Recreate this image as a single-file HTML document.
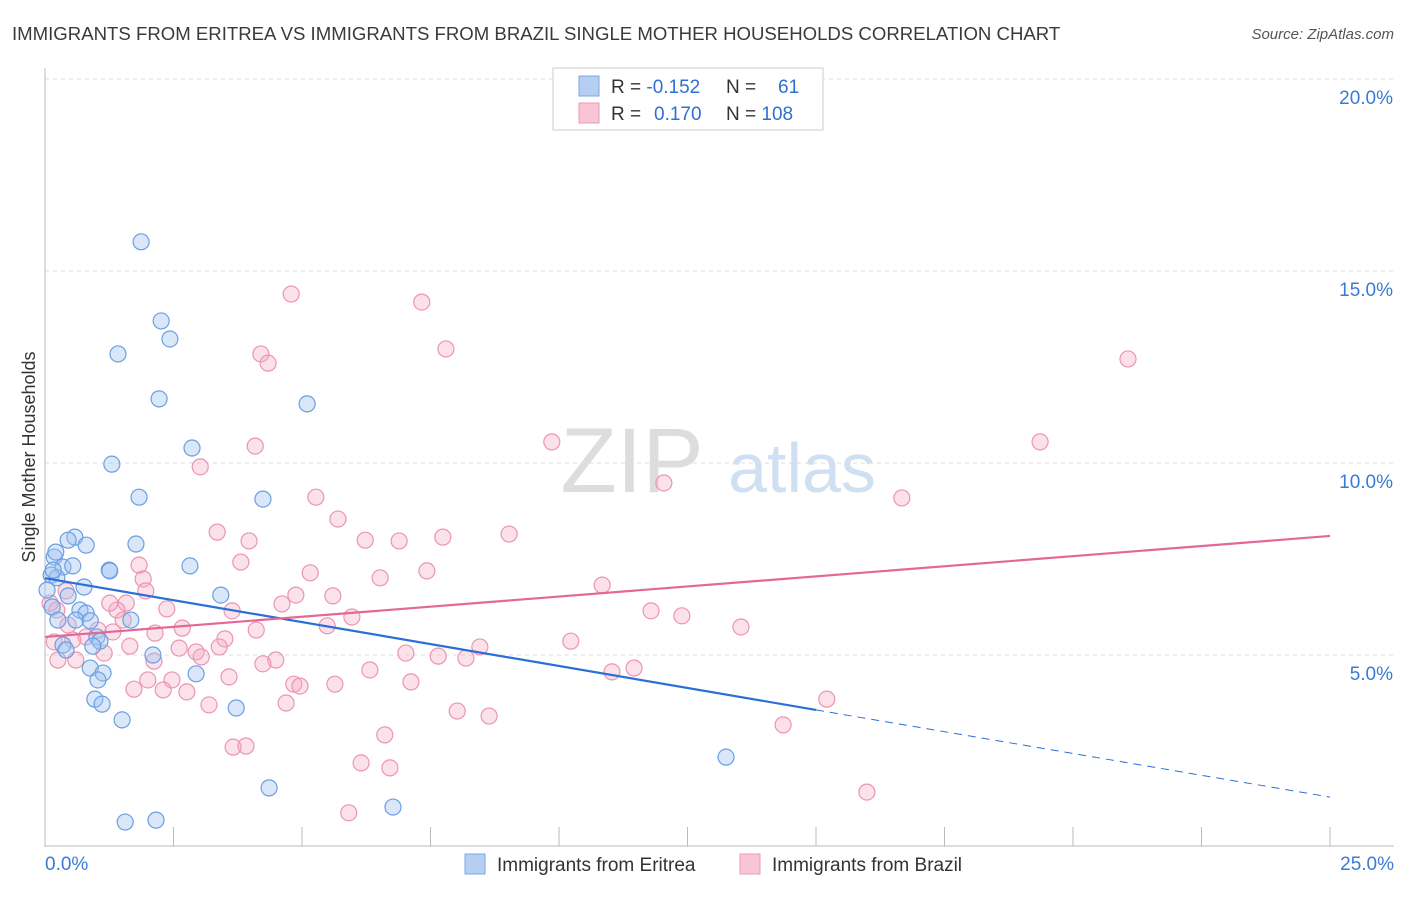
<!DOCTYPE html>
<html><head><meta charset="utf-8"><style>
body{margin:0;background:#fff;font-family:"Liberation Sans",sans-serif;}
svg text{font-family:"Liberation Sans",sans-serif;}
</style></head><body>
<svg id="chart" width="1406" height="892" viewBox="0 0 1406 892">
<text x="12" y="40" font-size="18.6" fill="#3a3a3a">IMMIGRANTS FROM ERITREA VS IMMIGRANTS FROM BRAZIL SINGLE MOTHER HOUSEHOLDS CORRELATION CHART</text>
<text x="1394" y="39" font-size="15" fill="#555" text-anchor="end" font-style="italic">Source: ZipAtlas.com</text>
<text x="35" y="457" font-size="18" fill="#333" text-anchor="middle" transform="rotate(-90 35 457)">Single Mother Households</text>
<g><text x="632" y="492" font-size="92" fill="#ddd" text-anchor="middle" font-family="Liberation Serif,serif">ZIP</text><text x="802" y="492" font-size="70" fill="#cfe0f3" text-anchor="middle">atlas</text></g>
<g id="grid"></g><g id="axes"></g><g id="pts"></g><g id="trend"></g>
<g>
<rect x="553" y="68" width="270" height="62" fill="#fff" stroke="#ccc"/>
<rect x="579" y="76" width="20" height="20" fill="#b4cff2" stroke="#7aa8e6"/>
<rect x="579" y="103" width="20" height="20" fill="#f8c5d5" stroke="#eb9ab4"/>
<text x="611" y="93" font-size="19" fill="#333">R = <tspan fill="#2f6fd4">-0.152</tspan></text>
<text x="726" y="93" font-size="19" fill="#333">N = <tspan fill="#2f6fd4" x="778">61</tspan></text>
<text x="611" y="120" font-size="19" fill="#333">R = <tspan fill="#2f6fd4" x="654">0.170</tspan></text>
<text x="726" y="120" font-size="19" fill="#333">N = <tspan fill="#2f6fd4">108</tspan></text>
</g>
<g>
<rect x="465" y="854" width="20" height="20" fill="#b4cff2" stroke="#7aa8e6"/>
<text x="497" y="871" font-size="19" fill="#333">Immigrants from Eritrea</text>
<rect x="740" y="854" width="20" height="20" fill="#f8c5d5" stroke="#eb9ab4"/>
<text x="772" y="871" font-size="19" fill="#333">Immigrants from Brazil</text>
</g>
</svg>
<script>
const yTicks=[5,10,15,20];
const yTickLabels=["5.0%","10.0%","15.0%","20.0%"];
const xTicks=[0,2.5,5,7.5,10,12.5,15,17.5,20,22.5,25];
const xEndLabels=["0.0%","25.0%"];
const eritreaX=[1.87,2.26,2.43,1.42,2.22,5.10,2.86,1.30,1.83,4.24,0.58,0.80,1.77,0.45,0.18,0.35,0.54,1.25,2.82,0.12,0.23,0.76,0.45,3.42,0.14,0.68,0.80,0.25,0.60,0.88,1.67,1.01,1.07,0.93,0.35,2.10,0.88,1.13,2.94,1.03,0.97,1.11,3.72,1.50,13.25,4.36,6.77,1.56,2.16,0.16,0.21,0.04,1.26,0.41];
const eritreaY=[15.76,13.70,13.23,12.84,11.67,11.54,10.39,9.97,9.11,9.06,8.07,7.86,7.89,7.99,7.55,7.29,7.32,7.21,7.32,7.08,7.01,6.77,6.54,6.56,6.25,6.17,6.09,5.91,5.91,5.89,5.91,5.47,5.36,5.23,5.26,5.00,4.66,4.53,4.51,4.35,3.85,3.72,3.62,3.31,2.34,1.54,1.04,0.65,0.70,7.21,7.68,6.69,7.19,5.13];
const brazilX=[4.79,7.33,7.80,4.20,4.34,21.07,9.86,19.36,4.09,3.02,12.04,5.27,16.67,5.70,3.35,9.03,6.23,6.89,7.74,3.97,1.83,3.81,7.43,5.16,6.52,1.91,10.84,1.96,4.88,5.60,2.37,3.64,4.61,11.79,12.39,5.97,1.58,1.40,2.67,5.49,4.11,2.14,13.54,3.50,10.23,3.39,2.61,2.94,7.02,7.65,8.46,8.19,3.04,4.49,4.24,2.12,1.15,0.60,0.80,1.32,11.03,11.46,6.32,3.58,2.00,2.47,4.84,5.64,4.96,7.12,1.73,2.30,2.76,3.19,4.69,8.02,8.64,15.21,6.61,14.36,3.66,3.91,6.15,6.71,5.91,15.99,0.23,0.45,0.10,1.03,0.54,1.52,0.41,1.26,0.18,1.65,0.25];
const brazilY=[14.40,14.19,12.97,12.84,12.60,12.71,10.55,10.55,10.44,9.90,9.48,9.11,9.09,8.54,8.20,8.15,7.99,7.97,8.07,7.97,7.34,7.42,7.19,7.14,7.01,6.98,6.82,6.67,6.56,6.54,6.20,6.15,6.33,6.15,6.02,5.99,6.35,6.17,5.70,5.76,5.65,5.57,5.73,5.42,5.36,5.21,5.18,5.08,5.05,4.97,5.21,4.92,4.95,4.87,4.77,4.84,5.05,4.87,5.47,5.60,4.56,4.66,4.61,4.43,4.35,4.35,4.24,4.24,4.19,4.30,4.11,4.09,4.04,3.70,3.75,3.54,3.41,3.85,2.92,3.18,2.60,2.63,2.19,2.06,0.89,1.43,6.17,5.78,6.35,5.65,5.39,5.91,6.67,6.35,5.34,5.23,4.87];
const eritreaTrendX=[0,15,25];
const eritreaTrendY=[7.0,3.57,1.30];
const brazilTrendX=[0,25];
const brazilTrendY=[5.47,8.1];

const NS="http://www.w3.org/2000/svg";
const sx=v=>45+v*51.4;
const sy=v=>847-v*38.4;
function mk(tag,attrs,parent){const e=document.createElementNS(NS,tag);for(const k in attrs)e.setAttribute(k,attrs[k]);document.getElementById(parent).appendChild(e);return e;}

yTicks.forEach((t,i)=>{
  const l=mk('line',{x1:45,x2:1394,y1:sy(t),y2:sy(t),stroke:'#ddd','stroke-dasharray':'4,4'},'grid');
  
  
  const tx=mk('text',{x:1393,y:sy(t)+25,'font-size':19,fill:'#3a7bd5','text-anchor':'end'},'grid');
  tx.textContent=yTickLabels[i];
  
  
});
const topLine=mk('line',{x1:45,x2:1394,y1:79,y2:79,stroke:'#ddd','stroke-dasharray':'4,4'},'grid');


const ya=mk('line',{x1:45,x2:45,y1:68,y2:847,stroke:'#bbb'},'axes');


const xa=mk('line',{x1:45,x2:1394,y1:846,y2:846,stroke:'#bbb'},'axes');


xTicks.forEach(t=>{
  const l=mk('line',{x1:sx(t),x2:sx(t),y1:827,y2:846,stroke:'#bbb'},'axes');
  
  
});
const xl0=mk('text',{x:45,y:870,'font-size':19,fill:'#3a7bd5'},'axes');
xl0.textContent=xEndLabels[0];


const xl1=mk('text',{x:1394,y:870,'font-size':19,fill:'#3a7bd5','text-anchor':'end'},'axes');
xl1.textContent=xEndLabels[1];



brazilX.forEach((x,i)=>{
  const c=mk('circle',{cx:sx(x),cy:sy(brazilY[i]),r:8,fill:'rgba(244,170,195,0.35)',stroke:'#ec94b1','stroke-width':1.2},'pts');
  
  
});
eritreaX.forEach((x,i)=>{
  const c=mk('circle',{cx:sx(x),cy:sy(eritreaY[i]),r:8,fill:'rgba(160,196,240,0.4)',stroke:'#6a9fe2','stroke-width':1.2},'pts');
  
  
});
const bt=mk('line',{x1:sx(eritreaTrendX[0]),y1:sy(eritreaTrendY[0]),x2:sx(eritreaTrendX[1]),y2:sy(eritreaTrendY[1]),stroke:'#2b6fd6','stroke-width':2.2},'trend');


const bd=mk('line',{x1:sx(eritreaTrendX[1]),y1:sy(eritreaTrendY[1]),x2:sx(eritreaTrendX[2]),y2:sy(eritreaTrendY[2]),stroke:'#2b6fd6','stroke-width':1,'stroke-dasharray':'8,6'},'trend');


const pt=mk('line',{x1:sx(brazilTrendX[0]),y1:sy(brazilTrendY[0]),x2:sx(brazilTrendX[1]),y2:sy(brazilTrendY[1]),stroke:'#e4679a','stroke-width':2.2},'trend');


</script>
</body></html>
